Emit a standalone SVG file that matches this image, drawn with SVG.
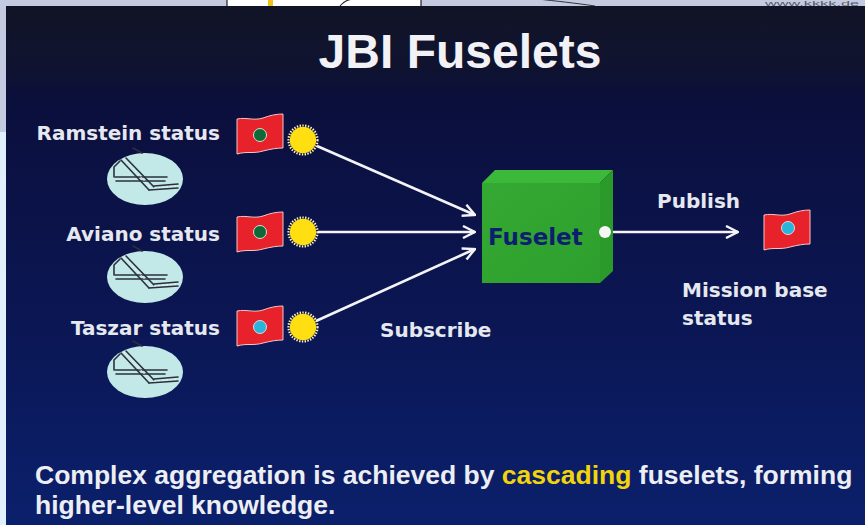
<svg xmlns="http://www.w3.org/2000/svg" xmlns:xlink="http://www.w3.org/1999/xlink" width="865" height="525" viewBox="0 0 865 525">
  <style>
    .title { font-family: "Liberation Sans", Arial, sans-serif; font-weight: bold; font-size: 48px; fill: #f2f2f6; }
    .label { font-family: "DejaVu Sans", Verdana, sans-serif; font-weight: bold; font-size: 20px; fill: #e6e8f0; }
    .box-label { font-family: "DejaVu Sans", Verdana, sans-serif; font-weight: bold; font-size: 23px; fill: #0c1f6e; }
    .note { font-family: "Liberation Sans", Arial, sans-serif; font-weight: bold; font-size: 26.5px; fill: #eceef4; }
    .hl { fill: #f2d40c; }
    .link { stroke: #f4f4f8; stroke-width: 2.6; fill: none; marker-end: url(#chevron); }
    .flag { fill: #e8222a; stroke: #f3c6c6; stroke-width: 1; }
    .runway { stroke: #2b303c; stroke-width: 1.6; fill: none; stroke-linecap: round; stroke-linejoin: round; }
  </style>
  <defs>
    <linearGradient id="bg" x1="0" y1="0" x2="0" y2="1">
      <stop offset="0" stop-color="#111426"/>
      <stop offset="0.12" stop-color="#0f1330"/>
      <stop offset="0.18" stop-color="#0b0f3c"/>
      <stop offset="0.55" stop-color="#0b1550"/>
      <stop offset="1" stop-color="#0b206c"/>
    </linearGradient>
    <linearGradient id="cubeFront" x1="0" y1="0" x2="1" y2="1">
      <stop offset="0" stop-color="#34a932"/>
      <stop offset="1" stop-color="#2e9f2e"/>
    </linearGradient>
    <marker id="chevron" viewBox="0 0 14 14" refX="13" refY="7" markerWidth="14" markerHeight="14" markerUnits="userSpaceOnUse" orient="auto">
      <path d="M1,1 L13,7 L1,13" fill="none" stroke="#f4f4f8" stroke-width="2.4" stroke-linejoin="miter"/>
    </marker>
    <!-- waving status flag, 46 x 40 -->
    <path id="flagShape" class="flag" d="M0,5 C10,3 16,7 26,4 C34,1 40,0 46,0 L46,34 C40,34 34,35 26,37 C16,40 10,37 0,40 Z"/>
    <!-- publishing "sun" marker -->
    <g id="sun">
      <circle r="14.5" fill="none" stroke="#fff6b8" stroke-width="2.2" stroke-dasharray="1.4 1.4"/>
      <circle r="13.2" fill="#ffde12"/>
    </g>
    <!-- airfield sketch inside an oval -->
    <g id="airfield">
      <ellipse rx="38" ry="26" fill="#c3e8e8"/>
      <path class="runway" d="M-12,-31 L-3,-26"/>
      <path class="runway" d="M-31,-2 L-31,-12 L-25,-18"/>
      <path class="runway" d="M-30,-2 L22,-2 M-29,2 L20,2"/>
      <path class="runway" d="M-24,-19 L4,11 M-19,-21 L9,8"/>
      <path class="runway" d="M4,11 L33,9 M9,7 L33,5"/>
      <path d="M-21,-20 L6,9 M9,9 L31,7" stroke="#e8f4f4" stroke-width="1" stroke-dasharray="2 2" fill="none"/>
    </g>
  </defs>

  <!-- page edge and the strip of the previous page above -->
  <rect x="0" y="0" width="865" height="525" fill="#e2effc"/>
  <rect x="0" y="0" width="865" height="6" fill="#c4cae0"/>
  <rect x="0" y="0" width="6" height="132" fill="#c4cae0"/>
  <rect x="227" y="-2" width="194" height="9" fill="#ffffff" stroke="#222222" stroke-width="1.2"/>
  <rect x="268" y="0" width="5" height="6" fill="#f2c21a"/>
  <path d="M340,6 C343,2 347,0 352,-1" stroke="#222222" stroke-width="1.2" fill="none"/>
  <path d="M538,-1 C555,1 575,3 595,6" stroke="#333333" stroke-width="1" fill="none"/>
  <text x="765" y="6" font-family="Liberation Sans, Arial, sans-serif" font-size="8" textLength="94" lengthAdjust="spacingAndGlyphs" fill="#555a66">www.kkkk.de</text>

  <!-- slide panel -->
  <rect x="6" y="6" width="859" height="519" fill="url(#bg)"/>

  <text class="title" x="460" y="68" text-anchor="middle">JBI Fuselets</text>

  <!-- subscribe / publish connectors -->
  <g id="connectors">
    <path class="link" d="M317,146 L475,215"/>
    <path class="link" d="M318,232 L475,232"/>
    <path class="link" d="M316,321 L475,249"/>
    <path class="link" d="M605,232 L738,232"/>
  </g>

  <g id="ramstein">
    <text class="label" x="220" y="140" text-anchor="end">Ramstein status</text>
    <use xlink:href="#flagShape" x="237" y="114"/>
    <circle cx="260" cy="135" r="6.5" fill="#0d6a34" stroke="#d9d9d9" stroke-width="1"/>
    <use xlink:href="#sun" x="303" y="140"/>
    <use xlink:href="#airfield" x="145" y="179"/>
  </g>

  <g id="aviano">
    <text class="label" x="220" y="241" text-anchor="end">Aviano status</text>
    <use xlink:href="#flagShape" x="237" y="212"/>
    <circle cx="260" cy="232" r="6.5" fill="#0d6a34" stroke="#d9d9d9" stroke-width="1"/>
    <use xlink:href="#sun" x="303" y="232"/>
    <use xlink:href="#airfield" x="145" y="277"/>
  </g>

  <g id="taszar">
    <text class="label" x="220" y="335" text-anchor="end">Taszar status</text>
    <use xlink:href="#flagShape" x="237" y="306"/>
    <circle cx="260" cy="327" r="6.5" fill="#2ab4dc" stroke="#d9d9d9" stroke-width="1"/>
    <use xlink:href="#sun" x="303" y="327"/>
    <use xlink:href="#airfield" x="145" y="372"/>
  </g>

  <g id="fuselet">
    <polygon points="482,183 495,170 613,170 600,183" fill="#3cb83a"/>
    <polygon points="600,183 613,170 613,271 600,283" fill="#2a9a2a"/>
    <rect x="482" y="183" width="118" height="100" fill="url(#cubeFront)"/>
    <text class="box-label" x="488" y="245">Fuselet</text>
    <circle cx="605" cy="232" r="6" fill="#f6f6f6"/>
  </g>

  <g id="subscribe-label">
    <text class="label" x="380" y="337">Subscribe</text>
  </g>

  <g id="publish-label">
    <text class="label" x="657" y="208">Publish</text>
  </g>

  <g id="mission-base">
    <use xlink:href="#flagShape" x="764" y="210"/>
    <circle cx="788" cy="228" r="6.5" fill="#2ab4dc" stroke="#d9d9d9" stroke-width="1"/>
    <text class="label" x="682" y="297">Mission base</text>
    <text class="label" x="682" y="325">status</text>
  </g>

  <g id="caption">
    <text class="note" x="35" y="484">Complex aggregation is achieved by <tspan class="hl">cascading</tspan> fuselets, forming</text>
    <text class="note" x="35" y="514">higher-level knowledge.</text>
  </g>
</svg>
